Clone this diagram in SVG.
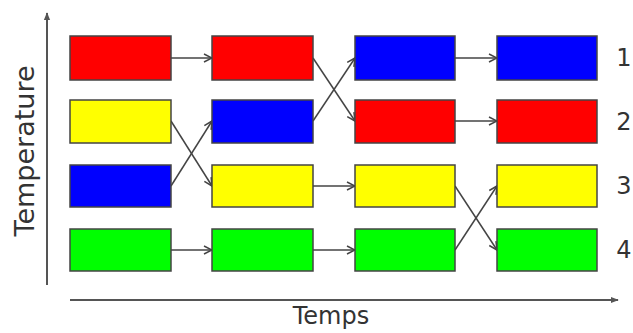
<svg xmlns="http://www.w3.org/2000/svg" width="633" height="333" viewBox="0 0 633 333">
<style>
.box{stroke:#444;stroke-width:1.5}
.r{fill:#ff0000}.y{fill:#ffff00}.b{fill:#0000ff}.g{fill:#00ff00}
.c{stroke:#444;stroke-width:1.5;fill:none;marker-end:url(#ah)}
.ax{stroke:#555;stroke-width:2;fill:none;marker-end:url(#axh)}
text{font-family:"DejaVu Sans",sans-serif;fill:#333}
.n{font-size:24px;text-anchor:middle}
</style>
<defs>
<marker id="ah" viewBox="0 0 10 10" refX="9" refY="5" markerWidth="10" markerHeight="10" markerUnits="userSpaceOnUse" orient="auto">
<path d="M1,1 L9,5 L1,9" fill="none" stroke="#444" stroke-width="1.5"/>
</marker>
<marker id="axh" viewBox="0 0 10 10" refX="9" refY="5" markerWidth="8" markerHeight="8" markerUnits="userSpaceOnUse" orient="auto">
<path d="M0,1 L10,5 L0,9 Z" fill="#555"/>
</marker>
</defs>
<rect width="633" height="333" fill="#fff"/>
<g id="axes">
<line class="ax" x1="47" y1="285" x2="47" y2="13"/>
<line class="ax" x1="70" y1="300" x2="618" y2="300"/>
</g>
<g id="connectors">
<line class="c" x1="171" y1="58" x2="212" y2="58"/>
<line class="c" x1="171" y1="250" x2="212" y2="250"/>
<line class="c" x1="171" y1="121" x2="212" y2="186"/>
<line class="c" x1="171" y1="186" x2="212" y2="121"/>
<line class="c" x1="313" y1="58" x2="355" y2="121"/>
<line class="c" x1="313" y1="121" x2="355" y2="58"/>
<line class="c" x1="313" y1="186" x2="355" y2="186"/>
<line class="c" x1="313" y1="250" x2="355" y2="250"/>
<line class="c" x1="455" y1="58" x2="497" y2="58"/>
<line class="c" x1="455" y1="121" x2="497" y2="121"/>
<line class="c" x1="455" y1="186" x2="497" y2="250"/>
<line class="c" x1="455" y1="250" x2="497" y2="186"/>
</g>
<g id="c1r1"><rect class="box r" x="70" y="36" width="101" height="44"/></g>
<g id="c1r2"><rect class="box y" x="70" y="100" width="101" height="43"/></g>
<g id="c1r3"><rect class="box b" x="70" y="165" width="101" height="42"/></g>
<g id="c1r4"><rect class="box g" x="70" y="229" width="101" height="42"/></g>
<g id="c2r1"><rect class="box r" x="212" y="36" width="101" height="44"/></g>
<g id="c2r2"><rect class="box b" x="212" y="100" width="101" height="43"/></g>
<g id="c2r3"><rect class="box y" x="212" y="165" width="101" height="42"/></g>
<g id="c2r4"><rect class="box g" x="212" y="229" width="101" height="42"/></g>
<g id="c3r1"><rect class="box b" x="355" y="36" width="100" height="44"/></g>
<g id="c3r2"><rect class="box r" x="355" y="100" width="100" height="43"/></g>
<g id="c3r3"><rect class="box y" x="355" y="165" width="100" height="42"/></g>
<g id="c3r4"><rect class="box g" x="355" y="229" width="100" height="42"/></g>
<g id="c4r1"><rect class="box b" x="497" y="36" width="100" height="44"/></g>
<g id="c4r2"><rect class="box r" x="497" y="100" width="100" height="43"/></g>
<g id="c4r3"><rect class="box y" x="497" y="165" width="100" height="42"/></g>
<g id="c4r4"><rect class="box g" x="497" y="229" width="100" height="42"/></g>
<g id="labels">
<text class="n" x="624" y="66">1</text>
<text class="n" x="624" y="130">2</text>
<text class="n" x="624" y="194">3</text>
<text class="n" x="624" y="258">4</text>
<text x="331" y="324" font-size="24" text-anchor="middle">Temps</text>
<text transform="translate(34,151) rotate(-90)" font-size="27" text-anchor="middle">Temperature</text>
</g>
</svg>
